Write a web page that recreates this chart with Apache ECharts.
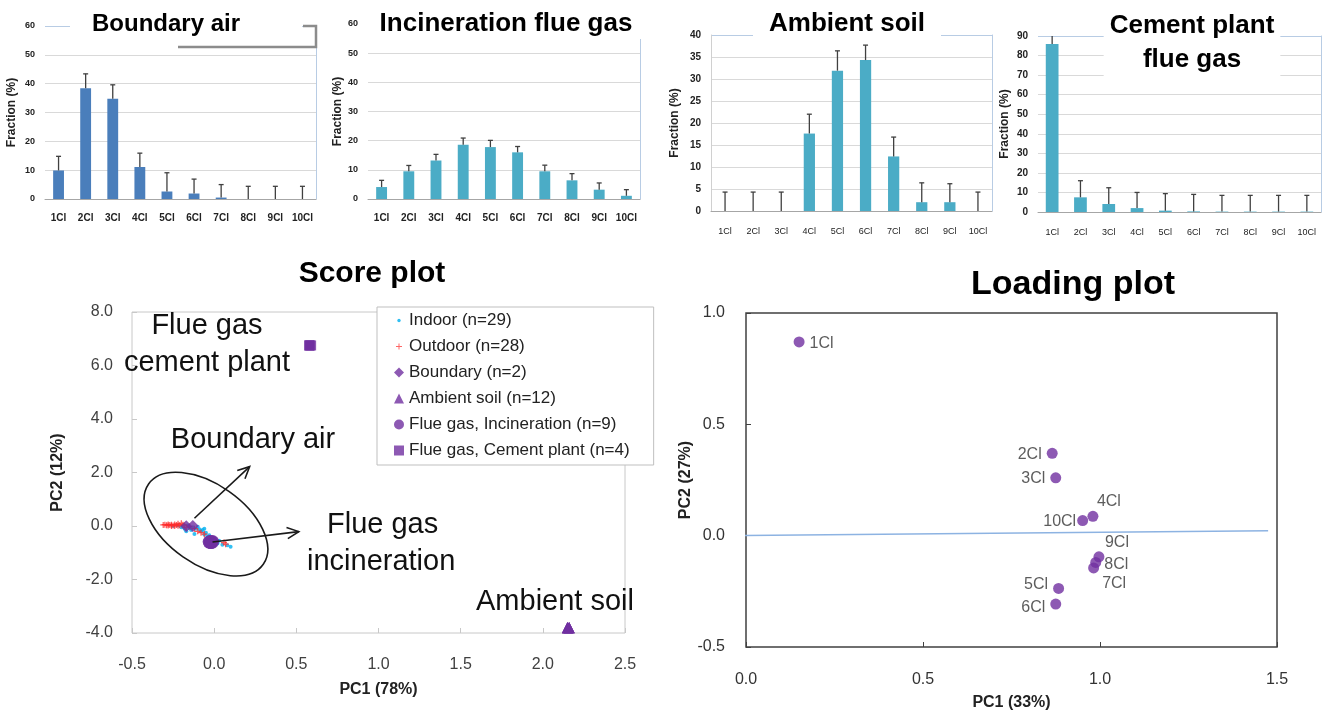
<!DOCTYPE html>
<html>
<head>
<meta charset="utf-8">
<title>Homologue profiles, score plot and loading plot</title>
<script src="https://cdn.jsdelivr.net/npm/echarts@6/dist/echarts.min.js"></script>
<style>
  html, body { margin: 0; padding: 0; background: #fff; }
  #chart { width: 1331px; height: 716px; }
</style>
</head>
<body>
<div id="chart"></div>
<script>
const FF = '"Liberation Sans", Arial, Helvetica, sans-serif';

// ---- homologue profiles (fraction %, with + error) ----
const congeners = ['1Cl', '2Cl', '3Cl', '4Cl', '5Cl', '6Cl', '7Cl', '8Cl', '9Cl', '10Cl'];

const boundaryFrac = [9.9, 38.4, 34.8, 11.1, 2.6, 1.9, 0.5, 0, 0, 0];
const boundaryErr = [4.9, 5.0, 4.8, 4.8, 6.5, 5.0, 4.5, 4.4, 4.4, 4.4];

const incinerationFrac = [4.1, 9.5, 13.2, 18.6, 17.8, 16.0, 9.5, 6.4, 3.2, 1.1];
const incinerationErr = [2.3, 2.0, 2.1, 2.3, 2.3, 2.0, 2.1, 2.3, 2.3, 2.1];

const soilFrac = [0, 0, 0, 17.6, 31.9, 34.3, 12.4, 2.0, 2.0, 0];
const soilErr = [4.3, 4.3, 4.3, 4.4, 4.5, 3.4, 4.4, 4.4, 4.2, 4.3];

const cementFrac = [85.9, 7.5, 4.1, 2.0, 0.7, 0.3, 0.2, 0.2, 0.2, 0.2];
const cementErr = [7.0, 8.5, 8.3, 8.0, 8.7, 8.7, 8.3, 8.3, 8.3, 8.3];

// ---- score plot (PC1, PC2) ----
const indoorScores = [[-0.25, 0.0], [-0.22, 0.02], [-0.2, -0.05], [-0.18, -0.1], [-0.17, -0.2], [-0.16, 0.02],
  [-0.15, -0.08], [-0.14, -0.15], [-0.13, -0.05], [-0.12, -0.3], [-0.11, -0.1], [-0.1, -0.03], [-0.09, -0.12],
  [-0.08, -0.2], [-0.07, -0.15], [-0.06, -0.1], [-0.05, -0.25], [-0.04, -0.4], [-0.03, -0.35], [-0.02, -0.5],
  [-0.01, -0.45], [0.0, -0.6], [0.02, -0.65], [0.03, -0.55], [0.05, -0.7], [0.08, -0.72], [0.1, -0.78],
  [-0.19, 0.0], [-0.06, -0.32]];
const outdoorScores = [[-0.31, 0.04], [-0.3, 0.05], [-0.29, 0.03], [-0.28, 0.06], [-0.27, 0.04], [-0.26, 0.05],
  [-0.25, 0.02], [-0.24, 0.06], [-0.23, 0.04], [-0.22, 0.08], [-0.21, 0.03], [-0.2, 0.1], [-0.19, 0.05],
  [-0.18, 0.02], [-0.26, 0.0], [-0.28, 0.02], [-0.24, 0.0], [-0.22, 0.01], [-0.17, -0.05], [-0.15, -0.02],
  [-0.12, -0.1], [-0.08, -0.25], [-0.06, -0.3], [-0.03, -0.45], [0.0, -0.55], [0.06, -0.62], [0.07, -0.68],
  [-0.1, -0.2]];
const boundaryScores = [[-0.17, -0.01], [-0.13, 0.0]];
const soilScores = [[2.15, -3.79], [2.16, -3.8], [2.15, -3.81], [2.16, -3.79], [2.15, -3.8], [2.16, -3.81],
  [2.15, -3.8], [2.16, -3.8], [2.15, -3.79], [2.16, -3.8], [2.15, -3.8], [2.16, -3.79]];
const incinerationScores = [[-0.02, -0.59], [-0.01, -0.6], [-0.02, -0.61], [-0.03, -0.6], [-0.02, -0.6],
  [-0.01, -0.58], [-0.02, -0.62], [-0.03, -0.59], [-0.02, -0.6]];
const cementScores = [[0.58, 6.74], [0.58, 6.76], [0.59, 6.75], [0.58, 6.75]];

// ---- loading plot ----
const loadingNames = ['1Cl', '2Cl', '3Cl', '4Cl', '5Cl', '6Cl', '7Cl', '8Cl', '9Cl', '10Cl'];
const loadingPC1 = [0.15, 0.865, 0.875, 0.98, 0.883, 0.875, 0.982, 0.988, 0.997, 0.951];
const loadingPC2 = [0.87, 0.37, 0.26, 0.087, -0.237, -0.307, -0.145, -0.12, -0.095, 0.068];
const trendPC1 = [-0.028, 1.475];
const trendPC2 = [0.0, 0.022];

// label placement for the loading points
const loadLabel = {
  '1Cl': ['right', [0, 2]], '2Cl': ['left', [0, 1]], '3Cl': ['left', [0, 1]], '4Cl': ['top', [16, 4]],
  '10Cl': ['left', [4, 1]], '9Cl': ['top', [18, 4]], '8Cl': ['right', [-2, 2]], '7Cl': ['right', [-2, 16]],
  '5Cl': ['left', [0, -4]], '6Cl': ['left', [0, 4]]
};

const barPanels = [
  { grid: { left: 45, top: 26, width: 271, height: 173 }, max: 60, interval: 10, frac: boundaryFrac, err: boundaryErr,
    color: '#4a7ebb', barWidth: '40%', xFont: 10, xBold: 'bold', yFont: 9, nameGap: 27, leftLine: false, xMargin: 14 },
  { grid: { left: 368, top: 24, width: 272, height: 175 }, max: 60, interval: 10, frac: incinerationFrac, err: incinerationErr,
    color: '#4bacc6', barWidth: '40%', xFont: 10, xBold: 'bold', yFont: 9, nameGap: 24, leftLine: false, xMargin: 14 },
  { grid: { left: 711, top: 35, width: 281, height: 176 }, max: 40, interval: 5, frac: soilFrac, err: soilErr,
    color: '#4bacc6', barWidth: '40%', xFont: 9, xBold: 'normal', yFont: 10, nameGap: 30, leftLine: true, xMargin: 16 },
  { grid: { left: 1038, top: 36, width: 283, height: 176 }, max: 90, interval: 10, frac: cementFrac, err: cementErr,
    color: '#4bacc6', barWidth: '45%', xFont: 9, xBold: 'normal', yFont: 10, nameGap: 27, leftLine: false, xMargin: 16 }
];

const grid = [];
const xAxis = [];
const yAxis = [];
const yAxisRight = [];
const series = [];

barPanels.forEach(function (p, i) {
  grid.push(Object.assign({ containLabel: false }, p.grid));
  const nLines = p.max / p.interval + 1;
  const splitColors = [];
  for (let k = 0; k < nLines; k++) splitColors.push(k === nLines - 1 ? '#b8cce4' : '#d9d9d9');
  xAxis.push({
    gridIndex: i, type: 'category', data: congeners,
    axisLine: { lineStyle: { color: '#a6a6a6' } },
    axisTick: { length: 4, lineStyle: { color: '#a6a6a6' } },
    axisLabel: { interval: 0, fontSize: p.xFont, fontWeight: p.xBold, color: '#222', margin: p.xMargin, fontFamily: FF }
  });
  yAxis.push({
    gridIndex: i, type: 'value', min: 0, max: p.max, interval: p.interval,
    name: 'Fraction (%)', nameLocation: 'middle', nameRotate: 90, nameGap: p.nameGap,
    nameTextStyle: { fontSize: 12, fontWeight: 'bold', color: '#222', fontFamily: FF },
    axisLine: { show: p.leftLine, lineStyle: { color: '#d0d0d0' } },
    axisTick: { show: false },
    axisLabel: { fontSize: p.yFont, fontWeight: 'bold', color: '#222', margin: 10, fontFamily: FF },
    splitLine: { lineStyle: { color: splitColors } }
  });
  yAxisRight.push({
    gridIndex: i, type: 'value', position: 'right', min: 0, max: p.max,
    axisLine: { show: true, lineStyle: { color: '#b8cce4' } },
    axisTick: { show: false }, axisLabel: { show: false }, splitLine: { show: false }
  });
  series.push({
    type: 'bar', xAxisIndex: i, yAxisIndex: i, data: p.frac, barWidth: p.barWidth,
    itemStyle: { color: p.color }, z: 2
  });
  series.push({
    type: 'custom', xAxisIndex: i, yAxisIndex: i, clip: true, z: 3,
    data: p.frac.map(function (v, k) { return [k, v, v + p.err[k]]; }),
    renderItem: function (params, api) {
      const base = api.coord([api.value(0), api.value(1)]);
      const top = api.coord([api.value(0), api.value(2)]);
      const style = { stroke: '#404040', lineWidth: 1.3 };
      return {
        type: 'group',
        children: [
          { type: 'line', shape: { x1: base[0], y1: base[1], x2: top[0], y2: top[1] }, style: style },
          { type: 'line', shape: { x1: top[0] - 2.5, y1: top[1], x2: top[0] + 2.5, y2: top[1] }, style: style }
        ]
      };
    }
  });
});

// score plot grid (index 4) and loading grid (index 5)
grid.push({ left: 132, top: 312, width: 493, height: 321, show: true, borderColor: '#c8c8c8', borderWidth: 1 });
grid.push({ left: 746, top: 313, width: 531, height: 334, show: true, borderColor: '#404040', borderWidth: 1.5 });

const oneDec = function (v) { return v.toFixed(1); };

xAxis.push({
  gridIndex: 4, type: 'value', min: -0.5, max: 2.5, interval: 0.5,
  name: 'PC1 (78%)', nameLocation: 'middle', nameGap: 49,
  nameTextStyle: { fontSize: 16, fontWeight: 'bold', color: '#222', fontFamily: FF },
  axisLine: { show: false, onZero: false },
  axisTick: { inside: true, length: 5, lineStyle: { color: '#c8c8c8' } },
  axisLabel: { formatter: oneDec, fontSize: 16, color: '#404040', margin: 24, fontFamily: FF },
  splitLine: { show: false }
});
xAxis.push({
  gridIndex: 5, type: 'value', min: 0, max: 1.5, interval: 0.5,
  name: 'PC1 (33%)', nameLocation: 'middle', nameGap: 48,
  nameTextStyle: { fontSize: 16, fontWeight: 'bold', color: '#222', fontFamily: FF },
  axisLine: { show: false, onZero: false },
  axisTick: { inside: true, length: 5, lineStyle: { color: '#404040' } },
  axisLabel: { formatter: oneDec, fontSize: 16, color: '#333', margin: 25, fontFamily: FF },
  splitLine: { show: false }
});

const scoreY = {
  gridIndex: 4, type: 'value', min: -4, max: 8, interval: 2,
  name: 'PC2 (12%)', nameLocation: 'middle', nameRotate: 90, nameGap: 66,
  nameTextStyle: { fontSize: 16, fontWeight: 'bold', color: '#222', fontFamily: FF },
  axisLine: { show: false, onZero: false },
  axisTick: { inside: true, length: 5, lineStyle: { color: '#c8c8c8' } },
  axisLabel: { formatter: oneDec, fontSize: 16, color: '#404040', margin: 19, fontFamily: FF },
  splitLine: { show: false }
};
const loadingY = {
  gridIndex: 5, type: 'value', min: -0.5, max: 1.0, interval: 0.5,
  name: 'PC2 (27%)', nameLocation: 'middle', nameRotate: 90, nameGap: 50,
  nameTextStyle: { fontSize: 16, fontWeight: 'bold', color: '#222', fontFamily: FF },
  axisLine: { show: false, onZero: false },
  axisTick: { inside: true, length: 5, lineStyle: { color: '#404040' } },
  axisLabel: { formatter: oneDec, fontSize: 16, color: '#333', margin: 21, fontFamily: FF },
  splitLine: { show: false }
};

const allY = yAxis.concat(yAxisRight, [scoreY, loadingY]); // 0-3 bars, 4-7 right frames, 8 score, 9 loading

const purple = '#7030a0';
const plusPath = 'path://M2,0H3V5H2Z M0,2H5V3H0Z';

series.push(
  { name: 'Indoor (n=29)', type: 'scatter', xAxisIndex: 4, yAxisIndex: 8, data: indoorScores,
    symbol: 'circle', symbolSize: 4, itemStyle: { color: '#00b0f0' }, z: 3 },
  { name: 'Outdoor (n=28)', type: 'scatter', xAxisIndex: 4, yAxisIndex: 8, data: outdoorScores,
    symbol: plusPath, symbolSize: 6, itemStyle: { color: '#ff2a2a' }, z: 3 },
  { name: 'Boundary (n=2)', type: 'scatter', xAxisIndex: 4, yAxisIndex: 8, data: boundaryScores,
    symbol: 'diamond', symbolSize: 12, itemStyle: { color: purple }, z: 4 },
  { name: 'Ambient soil (n=12)', type: 'scatter', xAxisIndex: 4, yAxisIndex: 8, data: soilScores,
    symbol: 'triangle', symbolSize: 11, itemStyle: { color: purple }, z: 4 },
  { name: 'Flue gas, Incineration (n=9)', type: 'scatter', xAxisIndex: 4, yAxisIndex: 8, data: incinerationScores,
    symbol: 'circle', symbolSize: 13, itemStyle: { color: purple }, z: 4 },
  { name: 'Flue gas, Cement plant (n=4)', type: 'scatter', xAxisIndex: 4, yAxisIndex: 8, data: cementScores,
    symbol: 'rect', symbolSize: 10, itemStyle: { color: purple }, z: 4 }
);

series.push({
  type: 'line', xAxisIndex: 5, yAxisIndex: 9, clip: false, symbol: 'none', silent: true,
  data: trendPC1.map(function (x, k) { return [x, trendPC2[k]]; }),
  lineStyle: { color: '#8db3e2', width: 1.5 }, z: 2
});
series.push({
  type: 'scatter', xAxisIndex: 5, yAxisIndex: 9, symbolSize: 11, itemStyle: { color: purple }, z: 3,
  data: loadingNames.map(function (n, k) {
    return {
      name: n, value: [loadingPC1[k], loadingPC2[k]],
      label: { show: true, formatter: n, position: loadLabel[n][0], offset: loadLabel[n][1],
        fontSize: 16, color: '#333', fontFamily: FF }
    };
  })
});

const svgIcon = function (svg) {
  return 'image://data:image/svg+xml;charset=utf-8,' + encodeURIComponent(svg);
};
const indoorIcon = svgIcon('<svg xmlns="http://www.w3.org/2000/svg" width="10" height="10"><circle cx="5" cy="5" r="1.7" fill="#00b0f0"/></svg>');
const outdoorIcon = svgIcon('<svg xmlns="http://www.w3.org/2000/svg" width="10" height="10"><path d="M5 2v6M2 5h6" stroke="#ff4040" stroke-width="1"/></svg>');

const titleStyle = function (size) {
  return { fontSize: size, fontWeight: 'bold', color: '#000', fontFamily: FF };
};

const option = {
  animation: false,
  backgroundColor: '#fff',
  textStyle: { fontFamily: FF },
  title: [
    { text: 'Boundary air', left: 144, top: 10, textAlign: 'center', padding: [2, 62, 2, 22], backgroundColor: '#fff', textStyle: titleStyle(24) },
    { text: 'Incineration flue gas', left: 494, top: 9, textAlign: 'center', padding: [2, 12], backgroundColor: '#fff', textStyle: titleStyle(26) },
    { text: 'Ambient soil', left: 831, top: 9, textAlign: 'center', padding: [2, 16], backgroundColor: '#fff', textStyle: titleStyle(26) },
    { text: 'Cement plant\nflue gas', left: 1186, top: 7, textAlign: 'center', padding: [2, 6], backgroundColor: '#fff',
      textStyle: Object.assign(titleStyle(26), { lineHeight: 34 }) },
    { text: 'Score plot', left: 372, top: 259, textAlign: 'center', padding: 0, textStyle: titleStyle(30) },
    { text: 'Loading plot', left: 1073, top: 268, textAlign: 'center', padding: 0, textStyle: titleStyle(34) }
  ],
  legend: {
    orient: 'vertical', left: 377, top: 307,
    padding: [5, 24, 6, 17], itemWidth: 10, itemHeight: 10, itemGap: 9, itemTextGap: 7,
    backgroundColor: '#fff', borderColor: '#bfbfbf', borderWidth: 1,
    textStyle: { fontSize: 17, lineHeight: 17, color: '#222', fontFamily: FF },
    data: [
      { name: 'Indoor (n=29)', icon: indoorIcon },
      { name: 'Outdoor (n=28)', icon: outdoorIcon },
      { name: 'Boundary (n=2)', icon: 'diamond' },
      { name: 'Ambient soil (n=12)', icon: 'triangle' },
      { name: 'Flue gas, Incineration (n=9)', icon: 'circle' },
      { name: 'Flue gas, Cement plant (n=4)', icon: 'rect' }
    ]
  },
  grid: grid,
  xAxis: xAxis,
  yAxis: allY,
  series: series
};

const chart = echarts.init(document.getElementById('chart'), null, { renderer: 'canvas' });
chart.setOption(option);

// annotations on the score plot (ellipse, arrows, group labels)
const P = function (pt) { return chart.convertToPixel({ gridIndex: 4 }, pt); };
const ink = { stroke: '#1a1a1a', lineWidth: 1.6, fill: null };

function arrow(from, to) {
  const a = P(from), b = P(to);
  const ang = Math.atan2(b[1] - a[1], b[0] - a[0]);
  const len = 13, spread = 0.45;
  const w1 = [b[0] - len * Math.cos(ang - spread), b[1] - len * Math.sin(ang - spread)];
  const w2 = [b[0] - len * Math.cos(ang + spread), b[1] - len * Math.sin(ang + spread)];
  return [
    { type: 'line', shape: { x1: a[0], y1: a[1], x2: b[0], y2: b[1] }, style: ink, z: 10 },
    { type: 'polyline', shape: { points: [w1, b, w2] }, style: ink, z: 10 }
  ];
}

const ec = P([-0.05, 0.07]);
const note = function (text, x, y, align) {
  return { type: 'text', x: x, y: y, z: 10,
    style: { text: text, font: '29px ' + FF, fill: '#111', textAlign: align, textVerticalAlign: 'middle' } };
};

const graphics = [
  { type: 'ellipse', shape: { cx: 0, cy: 0, rx: 70, ry: 40 }, x: ec[0], y: ec[1],
    rotation: -35 * Math.PI / 180, style: ink, z: 10 },
  note('Flue gas', 207, 326, 'center'),
  note('cement plant', 207, 363, 'center'),
  note('Boundary air', 253, 440, 'center'),
  note('Flue gas', 327, 525, 'left'),
  note('incineration', 307, 562, 'left'),
  note('Ambient soil', 555, 602, 'center'),
  // stray bracket mark at the top of the boundary air panel
  { type: 'polyline', shape: { points: [[178, 47], [316, 47], [316, 26], [303, 26]] },
    style: { stroke: '#8c8c8c', lineWidth: 2.5, fill: null }, z: 10 }
].concat(arrow([-0.12, 0.29], [0.216, 2.22]), arrow([-0.01, -0.6], [0.515, -0.21]));

chart.setOption({ graphic: graphics });
</script>
</body>
</html>
